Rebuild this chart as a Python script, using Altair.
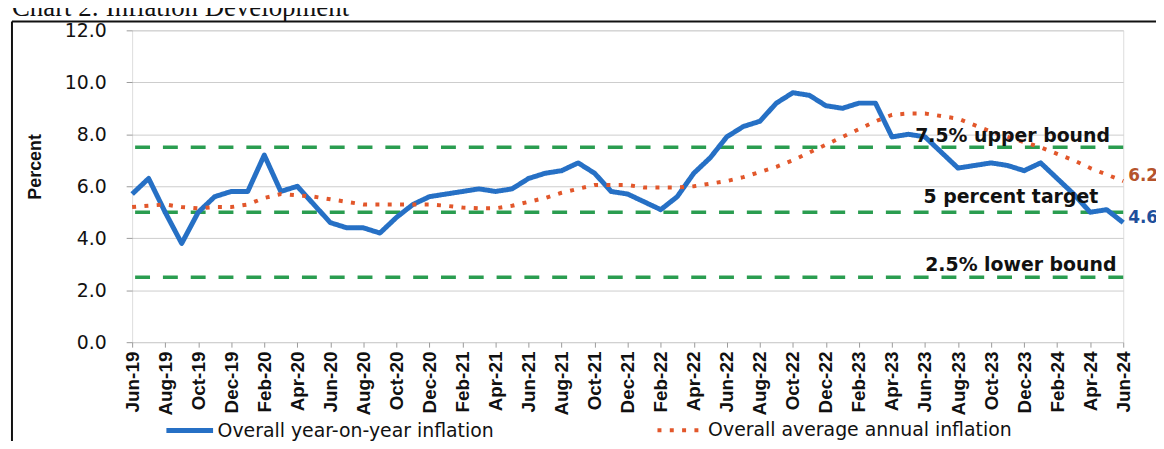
import json
import altair as alt
import pandas as pd

# ---------------- data ----------------
tick_labels = ["Jun-19", "Aug-19", "Oct-19", "Dec-19", "Feb-20", "Apr-20", "Jun-20", "Aug-20",
               "Oct-20", "Dec-20", "Feb-21", "Apr-21", "Jun-21", "Aug-21", "Oct-21", "Dec-21",
               "Feb-22", "Apr-22", "Jun-22", "Aug-22", "Oct-22", "Dec-22", "Feb-23", "Apr-23",
               "Jun-23", "Aug-23", "Oct-23", "Dec-23", "Feb-24", "Apr-24", "Jun-24"]

yoy = [5.7, 6.3, 5.0, 3.8, 5.0, 5.6, 5.8, 5.8, 7.2, 5.8, 6.0, 5.3, 4.6, 4.4, 4.4, 4.2,
       4.8, 5.3, 5.6, 5.7, 5.8, 5.9, 5.8, 5.9, 6.3, 6.5, 6.6, 6.9, 6.5, 5.8, 5.7, 5.4,
       5.1, 5.6, 6.5, 7.1, 7.9, 8.3, 8.5, 9.2, 9.6, 9.5, 9.1, 9.0, 9.2, 9.2, 7.9, 8.0,
       7.9, 7.3, 6.7, 6.8, 6.9, 6.8, 6.6, 6.9, 6.3, 5.7, 5.0, 5.1, 4.6]

avg = [5.2, 5.25, 5.3, 5.2, 5.15, 5.2, 5.2, 5.3, 5.55, 5.7, 5.65, 5.6, 5.5, 5.4, 5.3, 5.3,
       5.3, 5.3, 5.3, 5.25, 5.18, 5.15, 5.15, 5.25, 5.4, 5.55, 5.75, 5.9, 6.05, 6.05, 6.05, 5.95,
       5.95, 5.95, 6.0, 6.1, 6.2, 6.35, 6.55, 6.75, 7.0, 7.3, 7.6, 7.9, 8.2, 8.5, 8.75, 8.8,
       8.8, 8.7, 8.6, 8.35, 8.1, 7.9, 7.7, 7.5, 7.25, 7.0, 6.7, 6.45, 6.2]

series_names = ["Overall year-on-year inflation", "Overall average annual inflation"]

band_values = [7.5, 5.0, 2.5]
band_labels = ["7.5% upper bound", "5 percent target", "2.5% lower bound"]
band_label_x = [53.3, 53.2, 53.8]
band_label_y = [7.92, 5.58, 2.98]

end_label_colors = ["#1f4f9b", "#b5532c"]

# ---------------- frames ----------------
n = len(yoy)
lines_df = pd.DataFrame(
    [{"idx": i, "series": series_names[0], "value": v} for i, v in enumerate(yoy)]
    + [{"idx": i, "series": series_names[1], "value": v} for i, v in enumerate(avg)]
)
bands_df = pd.DataFrame({"value": band_values})
band_text_df = pd.DataFrame({"idx": band_label_x, "value": band_label_y, "label": band_labels})
end_df = pd.DataFrame({
    "idx": [n - 1, n - 1],
    "value": [yoy[-1], avg[-1]],
    "label": [f"{yoy[-1]:.1f}", f"{avg[-1]:.1f}"],
    "col": end_label_colors,
})
one_row = pd.DataFrame({"k": [0]})

# ---------------- encodings ----------------
label_expr = json.dumps(tick_labels) + "[round(datum.value/2)]"

x_enc = alt.X(
    "idx:Q",
    scale=alt.Scale(domain=[0, n - 1], nice=False, zero=False),
    axis=alt.Axis(
        values=list(range(0, n, 2)), labelExpr=label_expr, labelAngle=-90,
        labelFont="Liberation Sans", labelFontWeight="bold", labelFontSize=19,
        labelColor="#111111", labelPadding=4, grid=False, domain=False,
        ticks=True, tickSize=5, tickColor="#9a9a9a", title=None,
        labelOverlap=False, labelFlush=False,
    ),
)
y_enc = alt.Y(
    "value:Q",
    scale=alt.Scale(domain=[0, 12], nice=False),
    axis=alt.Axis(
        values=[0, 2, 4, 6, 8, 10, 12], format=".1f", grid=True, gridColor="#cdcdcd",
        gridWidth=1, domain=False, ticks=True, tickSize=6, tickColor="#9a9a9a",
        labelFont="DejaVu Sans", labelFontSize=19, labelColor="#111111", labelPadding=20,
        title="Percent", titleFont="Liberation Sans", titleFontWeight="bold",
        titleFontSize=18, titleColor="#111111", titleX=-97, titleY=137,
        titleAlign="center", titleBaseline="middle",
    ),
)

legend_props = dict(
    title=None, orient="none", legendX=32, legendY=377, direction="horizontal",
    symbolType="stroke", symbolSize=2209, symbolStrokeWidth=4.5,
    labelFont="DejaVu Sans", labelFontSize=19, labelColor="#111111",
    labelOffset=2, labelLimit=500, columnPadding=156,
)

# ---------------- layers ----------------
frame_top = alt.Chart(one_row).mark_rule(color="#111111", strokeWidth=2).encode(
    x=alt.value(-121), x2=alt.value(1040), y=alt.value(-9)
)
frame_left = alt.Chart(one_row).mark_rule(color="#111111", strokeWidth=2).encode(
    x=alt.value(-121), y=alt.value(-9), y2=alt.value(420)
)
title = alt.Chart(one_row).mark_text(
    text="Chart 2: Inflation Development", font="Liberation Serif", fontSize=27,
    align="left", baseline="alphabetic", color="#111111"
).encode(x=alt.value(-121), y=alt.value(-14))

bands = alt.Chart(bands_df).mark_rule(
    color="#2a9d50", strokeWidth=3.5, strokeDash=[15, 13]
).encode(y=y_enc)

lines = alt.Chart(lines_df).mark_line(strokeJoin="round").encode(
    x=x_enc,
    y=y_enc,
    color=alt.Color(
        "series:N",
        scale=alt.Scale(domain=series_names, range=["#2670c5", "#e2572b"]),
        legend=alt.Legend(**legend_props),
    ),
    strokeDash=alt.StrokeDash(
        "series:N",
        scale=alt.Scale(domain=series_names, range=[[1, 0], [4, 8.4]]),
        legend=alt.Legend(**legend_props),
    ),
    strokeWidth=alt.StrokeWidth(
        "series:N", scale=alt.Scale(domain=series_names, range=[5, 4]), legend=None
    ),
    order=alt.Order("idx:Q"),
)

band_text = alt.Chart(band_text_df).mark_text(
    font="DejaVu Sans", fontWeight="bold", fontSize=19, color="#111111",
    align="center", baseline="middle"
).encode(x=x_enc, y=y_enc, text="label:N")

end_text = alt.Chart(end_df).mark_text(
    font="DejaVu Sans", fontWeight="bold", fontSize=17, align="left",
    baseline="middle", dx=5, dy=-5
).encode(x=x_enc, y=y_enc, text="label:N", color=alt.Color("col:N", scale=None))

chart = alt.layer(
    frame_top, frame_left, title, bands, lines, band_text, end_text
).properties(
    width=998, height=314,
    autosize=alt.AutoSizeParams(type="none"),
    padding={"left": 125, "top": 21, "right": 33, "bottom": 98},
).configure_view(
    stroke="#9a9a9a", strokeWidth=1
).configure(background="white")

chart.save("out.html", embed_options={"renderer": "svg", "actions": False})
